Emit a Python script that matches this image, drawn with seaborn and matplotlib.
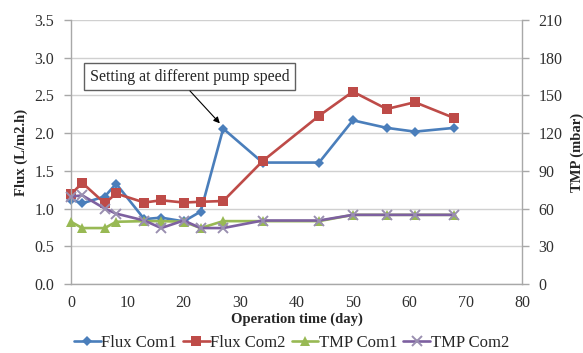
import matplotlib
matplotlib.use("Agg")
import matplotlib.pyplot as plt
import seaborn as sns
import pandas as pd

days = [0, 2, 6, 8, 13, 16, 20, 23, 27, 34, 44, 50, 56, 61, 68]
flux_com1 = [1.12, 1.07, 1.16, 1.33, 0.86, 0.88, 0.83, 0.96, 2.06, 1.61, 1.61, 2.17, 2.07, 2.02, 2.07]
flux_com2 = [1.19, 1.34, 1.07, 1.20, 1.08, 1.11, 1.08, 1.09, 1.10, 1.63, 2.23, 2.55, 2.32, 2.41, 2.20]
tmp_com1 = [49.5, 44.5, 44.5, 49.5, 50, 50, 49.5, 44.5, 50, 50, 50, 55, 55, 55, 55]
tmp_com2 = [69.5, 70.5, 60, 56, 50.5, 44.5, 50.5, 44.5, 44.5, 50.5, 50.5, 55, 55, 55, 55]

x_ticks = [0, 10, 20, 30, 40, 50, 60, 70, 80]
flux_ticks = [0.0, 0.5, 1.0, 1.5, 2.0, 2.5, 3.0, 3.5]
tmp_ticks = [0, 30, 60, 90, 120, 150, 180, 210]

sns.set_theme(style="white")
plt.rcParams['font.family'] = ['Liberation Serif', 'DejaVu Serif']

fig = plt.figure(figsize=(5.83, 3.53), dpi=100)
ax = fig.add_axes([71/583, 1-284/353, (522-71)/583, (284-20)/353])
ax2 = ax.twinx()

blue, red, green, purple = "#4A7EBB", "#BE4B48", "#98B954", "#7D60A0"

df = pd.DataFrame({"day": days, "f1": flux_com1, "f2": flux_com2, "t1": tmp_com1, "t2": tmp_com2})

common = dict(lw=1.9, legend=False, clip_on=False)
sns.lineplot(data=df, x="day", y="f1", ax=ax, color=blue, marker="D", markersize=5.5,
             markeredgewidth=0, label="Flux Com1", **common)
sns.lineplot(data=df, x="day", y="f2", ax=ax, color=red, marker="s", markersize=7,
             markeredgewidth=0, label="Flux Com2", **common)
sns.lineplot(data=df, x="day", y="t1", ax=ax2, color=green, marker="^", markersize=7.5,
             markeredgewidth=0, label="TMP Com1", **common)
sns.lineplot(data=df, x="day", y="t2", ax=ax2, color=purple, marker="x", markersize=7,
             markeredgewidth=1.4, markeredgecolor="#9A8FB0", label="TMP Com2", **common)

ax.set_xlim(0, 80)
ax.set_ylim(0, 3.5)
ax2.set_ylim(0, 210)
ax.set_xticks(x_ticks)
ax.set_yticks(flux_ticks)
ax.set_yticklabels([f"{v:.1f}" for v in flux_ticks])
ax2.set_yticks(tmp_ticks)
ax.grid(axis="y", color="#D0D0D0", lw=1)
ax.set_axisbelow(True)

for a in (ax, ax2):
    for s in a.spines.values():
        s.set_visible(False)
ax.spines["left"].set_visible(True)
ax.spines["bottom"].set_visible(True)
ax2.spines["right"].set_visible(True)
for s in (ax.spines["left"], ax.spines["bottom"], ax2.spines["right"]):
    s.set_color("#A8A8A8")
    s.set_linewidth(1)

ax.tick_params(axis="both", labelsize=11.5, length=5, width=1, direction="out",
               color="#A8A8A8", labelcolor="#303030", pad=7)
ax.tick_params(axis="x", pad=3)
ax2.tick_params(axis="y", labelsize=11.5, length=5, width=1, direction="out",
                color="#A8A8A8", labelcolor="#303030", pad=7)

ax.set_xlabel("Operation time (day)", fontsize=10.5, fontweight="bold", labelpad=1)
ax.set_ylabel("Flux (L/m2.h)", fontsize=10.5, fontweight="bold", labelpad=5)
ax2.set_ylabel("TMP (mbar)", fontsize=10.5, fontweight="bold", labelpad=6)

ax.text(21.0, 2.75, "Setting at different pump speed", fontsize=11.5, ha="center", va="center",
        bbox=dict(boxstyle="square,pad=0.35", fc="white", ec="#606060", lw=1), zorder=5)
ax.annotate("", xy=(26.4, 2.13), xytext=(21.1, 2.56),
            arrowprops=dict(arrowstyle="-|>", color="black", lw=0.8, shrinkA=0, shrinkB=0,
                            mutation_scale=9), zorder=5)

h1, l1 = ax.get_legend_handles_labels()
h2, l2 = ax2.get_legend_handles_labels()
fig.legend(h1 + h2, l1 + l2, loc="center", bbox_to_anchor=(0.5, 1 - 343/353), ncol=4,
           frameon=False, fontsize=12, handlelength=1.6, handletextpad=0.05, columnspacing=0.35,
           borderaxespad=0)

fig.savefig("out.png", dpi=100)
